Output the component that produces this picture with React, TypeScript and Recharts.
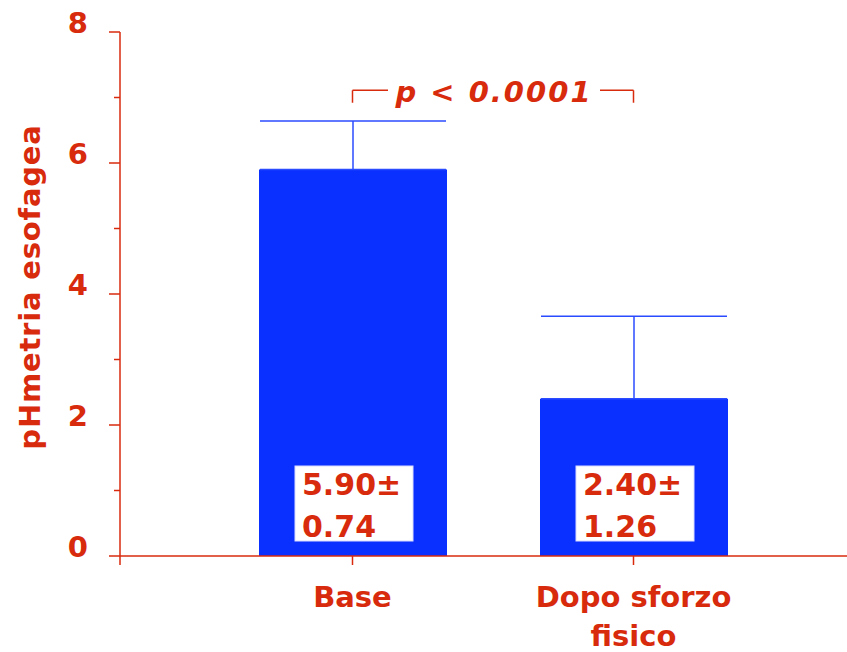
import React from 'react';
import { BarChart, Bar, XAxis, YAxis, ErrorBar, LabelList, ReferenceLine } from 'recharts';

const categories = ['Base', 'Dopo sforzo fisico'];
const categoryLines = [['Base'], ['Dopo sforzo', 'fisico']];
const means = [5.9, 2.4];
const sds = [0.74, 1.26];
const yTicks = [0, 1, 2, 3, 4, 5, 6, 7, 8];
const pLabel = 'p < 0.0001';
const bracketTop = 7.11;
const bracketFoot = 6.92;

const RED = '#d82a0c';
const BLUE = '#0a30ff';
const FONT = '"DejaVu Sans", Verdana, sans-serif';

const data = categories.map((name, i) => ({
  name,
  mean: means[i],
  err: [0, sds[i]],
  sd: sds[i],
}));

const YTick = (props: any) => {
  const { x, y, payload } = props;
  const v = payload.value;
  const major = v % 2 === 0;
  return (
    <g>
      <line x1={x - (major ? 11 : 6)} x2={x} y1={y} y2={y} stroke={RED} strokeWidth={1.5} />
      {v === 0 && <line x1={x} x2={x} y1={y} y2={y + 9} stroke={RED} strokeWidth={1.5} />}
      {major && (
        <text x={x - 32} y={y + 1} textAnchor="end" fill={RED} fontFamily={FONT} fontWeight="bold" fontSize={29}>
          {v}
        </text>
      )}
    </g>
  );
};

const XTick = (props: any) => {
  const { x, y, index } = props;
  const lines = categoryLines[index] || [];
  return (
    <g>
      <line x1={x} x2={x} y1={y} y2={y + 9} stroke={RED} strokeWidth={1.5} />
      {lines.map((t, i) => (
        <text key={i} x={x} y={y + 51 + i * 39} textAnchor="middle" fill={RED} fontFamily={FONT} fontWeight="bold" fontSize={29}>
          {t}
        </text>
      ))}
    </g>
  );
};

const ValueBox = (props: any) => {
  const { x, y, width, height, index } = props;
  const cx = x + width / 2 + 1;
  const bottom = y + height - 15;
  const bx = cx - 59;
  const by = bottom - 75;
  return (
    <g>
      <rect x={bx} y={by} width={118} height={75} fill="#ffffff" stroke="#d8dcff" strokeWidth={1} />
      <text x={bx + 7} y={by + 29} fill={RED} fontFamily={FONT} fontWeight="bold" fontSize={30}>
        {means[index].toFixed(2)}±
      </text>
      <text x={bx + 7} y={by + 71} fill={RED} fontFamily={FONT} fontWeight="bold" fontSize={30}>
        {sds[index].toFixed(2)}
      </text>
    </g>
  );
};

const BracketLabel = (props: any) => {
  const { viewBox } = props;
  const cx = viewBox.x + viewBox.width / 2 + 1;
  const cy = viewBox.y;
  return (
    <g>
      <rect x={cx - 106} y={cy - 15} width={212} height={30} fill="#ffffff" />
      <text
        x={cx}
        y={cy + 12}
        textAnchor="middle"
        fill={RED}
        fontFamily={FONT}
        fontWeight="bold"
        fontStyle="italic"
        fontSize={29}
        letterSpacing={2}
      >
        {pLabel}
      </text>
    </g>
  );
};

const YLabel = (props: any) => {
  const { viewBox } = props;
  const cx = 30;
  const cy = viewBox.y + viewBox.height / 2 - 7;
  return (
    <text
      x={cx}
      y={cy}
      transform={`rotate(-90 ${cx} ${cy})`}
      textAnchor="middle"
      dominantBaseline="central"
      fill={RED}
      fontFamily={FONT}
      fontWeight="bold"
      fontSize={29}
      letterSpacing={0.8}
    >
      pHmetria esofagea
    </text>
  );
};

export default function App() {
  return (
    <div style={{ position: 'absolute', left: 0, top: 0, background: '#fff' }}>
      <BarChart width={847} height={652} data={data} margin={{ top: 32, right: 0, bottom: 0, left: 0 }}>
        <YAxis
          domain={[0, 8]}
          ticks={yTicks}
          interval={0}
          width={120}
          tickSize={0}
          tickMargin={0}
          tickLine={false}
          axisLine={{ stroke: RED, strokeWidth: 1.5 }}
          tick={<YTick />}
          label={<YLabel />}
        />
        <XAxis
          dataKey="name"
          height={96}
          padding={{ left: 92, right: 73 }}
          tickSize={0}
          tickMargin={0}
          tickLine={false}
          interval={0}
          axisLine={{ stroke: RED, strokeWidth: 1.5 }}
          tick={<XTick />}
        />
        <Bar dataKey="mean" fill={BLUE} barSize={188} isAnimationActive={false}>
          <ErrorBar dataKey="err" width={93} stroke="#2a4bff" strokeWidth={1.5} />
          <LabelList dataKey="mean" content={<ValueBox />} />
        </Bar>
        <ReferenceLine
          segment={[{ x: categories[0], y: bracketTop }, { x: categories[1], y: bracketTop }]}
          stroke={RED}
          strokeWidth={1.5}
          label={<BracketLabel />}
        />
        <ReferenceLine
          segment={[{ x: categories[0], y: bracketFoot }, { x: categories[0], y: bracketTop }]}
          stroke={RED}
          strokeWidth={1.5}
        />
        <ReferenceLine
          segment={[{ x: categories[1], y: bracketFoot }, { x: categories[1], y: bracketTop }]}
          stroke={RED}
          strokeWidth={1.5}
        />
      </BarChart>
    </div>
  );
}
